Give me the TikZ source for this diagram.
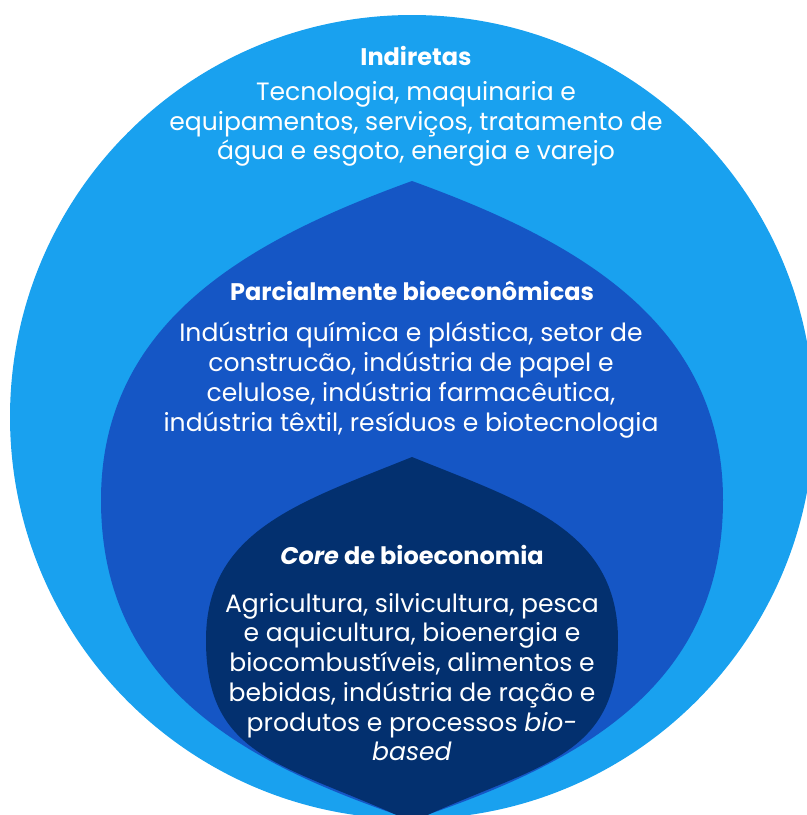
\documentclass[tikz,border=0pt]{standalone}
\usepackage{fontspec}
\setmainfont{Poppins}
\definecolor{indblue}{HTML}{19A1EF}
\definecolor{parblue}{HTML}{1556C5}
\definecolor{coreblue}{HTML}{03306F}
\tikzset{
  bodytext/.style={text=white, align=center, inner sep=0pt, font=\fontsize{18.8}{22.3}\selectfont},
  titletext/.style={text=white, inner sep=0pt, font=\fontsize{18}{22.3}\selectfont\bfseries},
}
\begin{document}
\begin{tikzpicture}[x=0.75pt, y=-0.75pt]
    \useasboundingbox (0,0) rectangle (807,815);
    \clip (0,0) rectangle (807,815);

    % Indirect sectors (outer circle)
    \fill[indblue] (412,417) circle (402);

    % Partially bioeconomic sectors
    \fill[parblue] (412,181) .. controls (252,239) and (101,320) .. (101,500)
        .. controls (101,690) and (250,765.5) .. (412,820)
        .. controls (574,765.5) and (723,690) .. (723,500)
        .. controls (723,320) and (572,239) .. cycle;

    % Core of the bioeconomy
    \fill[coreblue] (412,457) .. controls (300.7,502) and (206,530) .. (206,640)
        .. controls (206,760) and (285,763) .. (412,822)
        .. controls (539,763) and (618,760) .. (618,640)
        .. controls (618,530) and (523.3,502) .. cycle;

    % Labels
    \node[titletext] (indtitle) at (416,56) {Indiretas};
    \node[bodytext] (indbody) at (416,124) {Tecnologia, maquinaria e\\equipamentos, serviços, tratamento de\\água e esgoto, energia e varejo};

    \node[titletext] (partitle) at (412,291) {Parcialmente bioeconômicas};
    \node[bodytext] (parbody) at (411,380) {Indústria química e plástica, setor de\\construcão, indústria de papel e\\celulose, indústria farmacêutica,\\indústria têxtil, resíduos e biotecnologia};

    \node[titletext] (coretitle) at (412,555) {\textit{Core} de bioeconomia};
    \node[bodytext] (corebody) at (412,677) {Agricultura, silvicultura, pesca\\e aquicultura, bioenergia e\\biocombustíveis, alimentos e\\bebidas, indústria de ração e\\produtos e processos \textit{bio-}\\\textit{based}};
\end{tikzpicture}
\end{document}
